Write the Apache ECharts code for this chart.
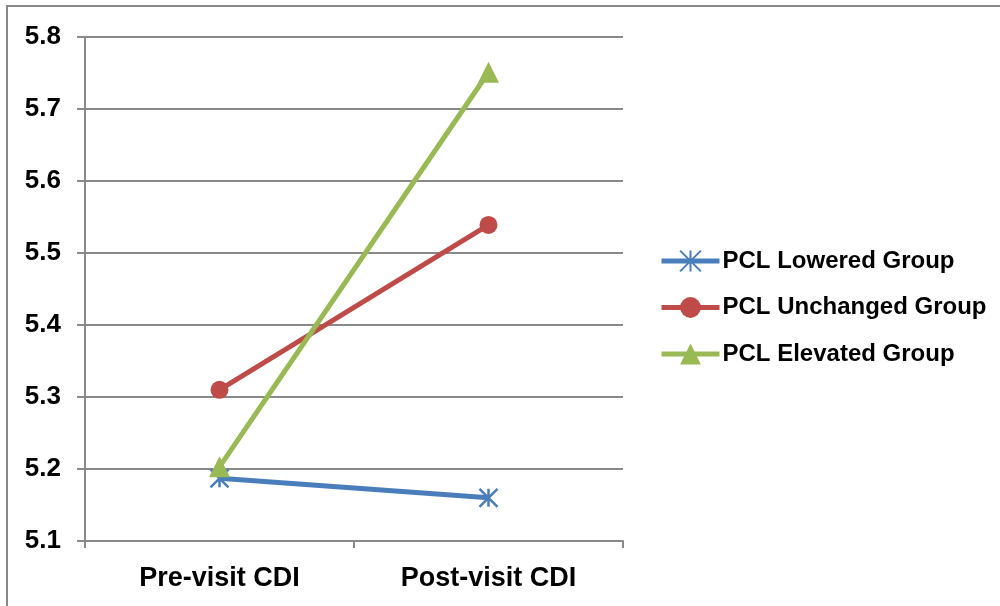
<!DOCTYPE html>
<html>
<head>
<meta charset="utf-8">
<script src="https://cdn.jsdelivr.net/npm/echarts@6/dist/echarts.min.js"></script>
<style>
html,body{margin:0;padding:0;background:#fff;}
#chart{width:1000px;height:606px;}
</style>
</head>
<body>
<div id="chart"></div>
<script>
var categories = ['Pre-visit CDI', 'Post-visit CDI'];
var seriesNames = ['PCL Lowered Group', 'PCL Unchanged Group', 'PCL Elevated Group'];
var lowered = [5.187, 5.16];
var unchanged = [5.31, 5.539];
var elevated = [5.203, 5.751];
var yTicks = [5.1, 5.2, 5.3, 5.4, 5.5, 5.6, 5.7, 5.8];

var chart = echarts.init(document.getElementById('chart'), null, {renderer: 'canvas'});
var FONT = '"Liberation Sans", Arial, sans-serif';
var GRAY = '#898989';
var starPath = 'path://M50,0 L50,100 M0,0 L100,100 M100,0 L0,100';

var option = {
  backgroundColor: '#fff',
  animation: false,
  graphic: [{
    type: 'rect',
    shape: {x: 7, y: 6, width: 1200, height: 800},
    style: {fill: 'none', stroke: GRAY, lineWidth: 2},
    silent: true
  }],
  grid: {left: 85, right: 377, top: 37, bottom: 65, containLabel: false},
  legend: {
    orient: 'vertical',
    left: 654,
    top: 244,
    itemWidth: 58,
    itemHeight: 26,
    itemGap: 22.5,
    lineStyle: {width: 5},
    textStyle: {fontFamily: FONT, fontWeight: 'bold', fontSize: 24, color: '#000', padding: [0, 0, 0, -2]},
    data: seriesNames
  },
  xAxis: {
    type: 'category',
    data: categories,
    boundaryGap: true,
    axisLine: {lineStyle: {color: GRAY, width: 2}},
    axisTick: {show: true, length: 7, inside: false, lineStyle: {color: GRAY, width: 2}},
    axisLabel: {fontFamily: FONT, fontWeight: 'bold', fontSize: 27, color: '#000', margin: 24}
  },
  yAxis: {
    type: 'value',
    min: yTicks[0],
    max: yTicks[yTicks.length - 1],
    interval: 0.1,
    axisLine: {show: true, lineStyle: {color: GRAY, width: 2}},
    axisTick: {show: true, length: 8, lineStyle: {color: GRAY, width: 2}},
    splitLine: {show: true, lineStyle: {color: GRAY, width: 2}},
    axisLabel: {
      fontFamily: FONT, fontWeight: 'bold', fontSize: 26, color: '#000', margin: 24,
      formatter: function (v) { return v.toFixed(1); }
    }
  },
  series: [
    {
      name: seriesNames[0], type: 'line', data: lowered,
      symbol: starPath, symbolSize: 18,
      lineStyle: {color: '#4a7ebb', width: 5},
      itemStyle: {color: '#4a7ebb', borderColor: '#4a7ebb', borderWidth: 2.5}
    },
    {
      name: seriesNames[1], type: 'line', data: unchanged,
      symbol: 'circle', symbolSize: 18,
      lineStyle: {color: '#be4b48', width: 5},
      itemStyle: {color: '#be4b48', borderWidth: 0}
    },
    {
      name: seriesNames[2], type: 'line', data: elevated,
      symbol: 'triangle', symbolSize: 21,
      lineStyle: {color: '#98b954', width: 5},
      itemStyle: {color: '#98b954', borderWidth: 0}
    }
  ]
};
chart.setOption(option);
</script>
</body>
</html>
